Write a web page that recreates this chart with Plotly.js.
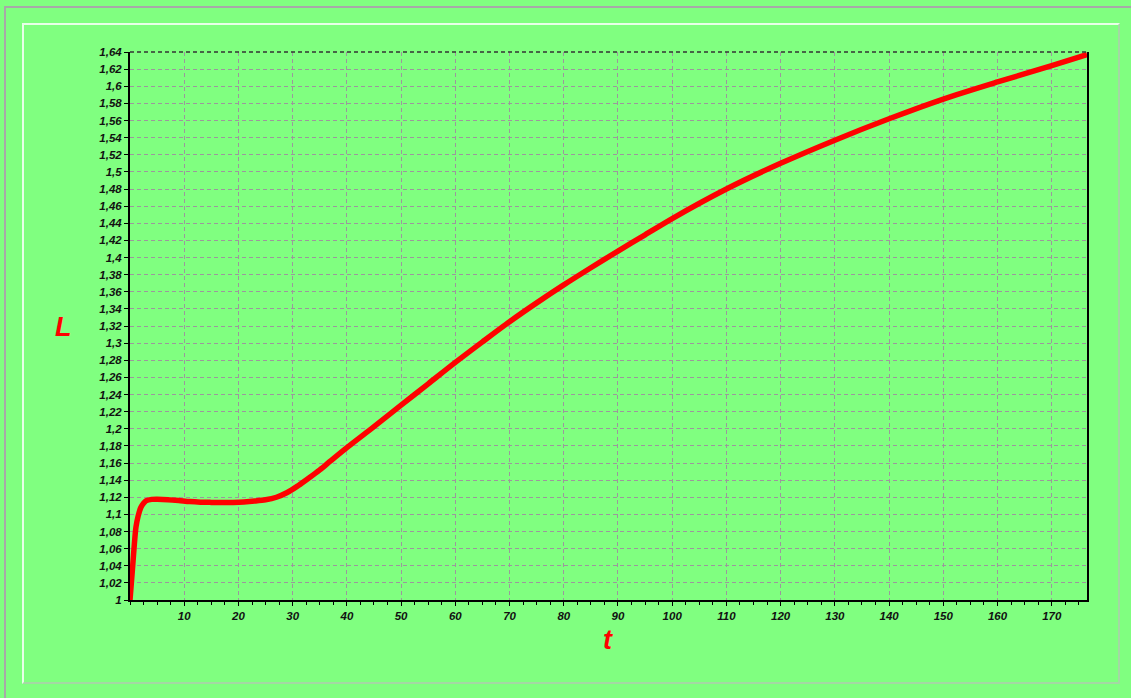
<!DOCTYPE html>
<html>
<head>
<meta charset="utf-8">
<script src="https://cdn.plot.ly/plotly-3.0.1.min.js"></script>
<style>
  html, body { margin:0; padding:0; background:#80ff80; overflow:hidden; }
  #wrap { position:relative; width:1131px; height:698px; overflow:hidden; background:#80ff80; }
  #outer { position:absolute; left:4px; top:6px; width:1127px; height:692px; border-left:2px solid #a8a8a8; border-top:2px solid #a8a8a8; box-sizing:border-box; }
  #inner { position:absolute; left:22px; top:23px; width:1098px; height:661px; border-left:2px solid #e8ffe8; border-top:2px solid #e8ffe8; border-right:2px solid #a4d8a4; border-bottom:2px solid #a4d8a4; box-sizing:border-box; }
  #chart { position:absolute; left:0; top:0; width:1131px; height:698px; }
</style>
</head>
<body>
<div id="wrap">
  <div id="outer"></div>
  <div id="inner"></div>
  <div id="chart"></div>
</div>
<script>
// Data
const tValues = [0, 0.25, 0.5, 0.8, 1.1, 1.5, 2, 2.5, 3, 4, 5, 7, 9, 11, 13, 15, 17, 19, 21, 23, 25, 27, 29, 31, 33, 35, 37, 40, 45, 50, 55, 60, 65, 70, 75, 80, 85, 90, 95, 100, 110, 120, 130, 140, 150, 160, 170, 176.5];
const LValues = [1, 1.02, 1.04, 1.065, 1.085, 1.098, 1.108, 1.113, 1.116, 1.1175, 1.1177, 1.1172, 1.1162, 1.115, 1.1143, 1.114, 1.1138, 1.114, 1.1145, 1.1155, 1.117, 1.12, 1.1255, 1.1335, 1.1425, 1.152, 1.1625, 1.178, 1.2025, 1.2275, 1.2525, 1.2775, 1.3015, 1.325, 1.347, 1.368, 1.388, 1.4075, 1.4265, 1.4455, 1.48, 1.51, 1.537, 1.562, 1.585, 1.605, 1.624, 1.637];

const xTickVals = [10, 20, 30, 40, 50, 60, 70, 80, 90, 100, 110, 120, 130, 140, 150, 160, 170];
const xTickText = ["10", "20", "30", "40", "50", "60", "70", "80", "90", "100", "110", "120", "130", "140", "150", "160", "170"];
const yTickVals = [1, 1.02, 1.04, 1.06, 1.08, 1.1, 1.12, 1.14, 1.16, 1.18, 1.2, 1.22, 1.24, 1.26, 1.28, 1.3, 1.32, 1.34, 1.36, 1.38, 1.4, 1.42, 1.44, 1.46, 1.48, 1.5, 1.52, 1.54, 1.56, 1.58, 1.6, 1.62, 1.64];
const yTickText = ["1", "1,02", "1,04", "1,06", "1,08", "1,1", "1,12", "1,14", "1,16", "1,18", "1,2", "1,22", "1,24", "1,26", "1,28", "1,3", "1,32", "1,34", "1,36", "1,38", "1,4", "1,42", "1,44", "1,46", "1,48", "1,5", "1,52", "1,54", "1,56", "1,58", "1,6", "1,62", "1,64"];
const xTitle = "t";
const yTitle = "L";

const tickFont = { family: "Liberation Sans, Arial, sans-serif", size: 11.5, color: "#111", weight: "bold", style: "italic" };
const gridColor = "#9c979c";

const trace = {
  x: tValues, y: LValues, type: "scatter", mode: "lines",
  line: { color: "#ff0000", width: 5.5, shape: "spline", smoothing: 0.8 },
  hoverinfo: "skip", cliponaxis: false
};

const layout = {
  width: 1131, height: 698,
  margin: { l: 130, r: 44, t: 52, b: 98 },
  paper_bgcolor: "rgba(0,0,0,0)",
  plot_bgcolor: "#80ff80",
  showlegend: false,
  xaxis: {
    range: [0, 176.5], tickmode: "array", tickvals: xTickVals, ticktext: xTickText,
    ticks: "outside", ticklen: 4, tickwidth: 1, tickcolor: "#000",
    showgrid: true, gridcolor: gridColor, gridwidth: 1, griddash: "4px,3px",
    showline: true, linecolor: "#000", linewidth: 2,
    zeroline: false, tickfont: tickFont,
    minor: { dtick: 2.5, tick0: 0, ticks: "outside", ticklen: 3, tickcolor: "#000", showgrid: false }
  },
  yaxis: {
    range: [1, 1.64], tickmode: "array", tickvals: yTickVals, ticktext: yTickText,
    ticks: "outside", ticklen: 4, tickwidth: 1, tickcolor: "#000",
    showgrid: true, gridcolor: gridColor, gridwidth: 1, griddash: "4px,3px",
    showline: true, linecolor: "#000", linewidth: 2, mirror: true,
    zeroline: false, tickfont: tickFont
  },
  shapes: [
    { type: "line", xref: "paper", yref: "paper", x0: 0, x1: 1, y0: 1, y1: 1,
      line: { color: "#333", width: 1.5, dash: "4px,3px" } }
  ],
  annotations: [
    { text: yTitle, xref: "paper", yref: "paper", x: -0.070, y: 0.498, showarrow: false,
      xanchor: "center", yanchor: "middle",
      font: { family: "Liberation Sans, Arial, sans-serif", size: 27, color: "#ff0000", weight: "bold", style: "italic" } },
    { text: xTitle, xref: "paper", yref: "paper", x: 0.4995, y: -0.073, showarrow: false,
      xanchor: "center", yanchor: "middle",
      font: { family: "Liberation Sans, Arial, sans-serif", size: 27, color: "#ff0000", weight: "bold", style: "italic" } }
  ]
};

Plotly.newPlot("chart", [trace], layout, { displayModeBar: false, staticPlot: true });
</script>
</body>
</html>
